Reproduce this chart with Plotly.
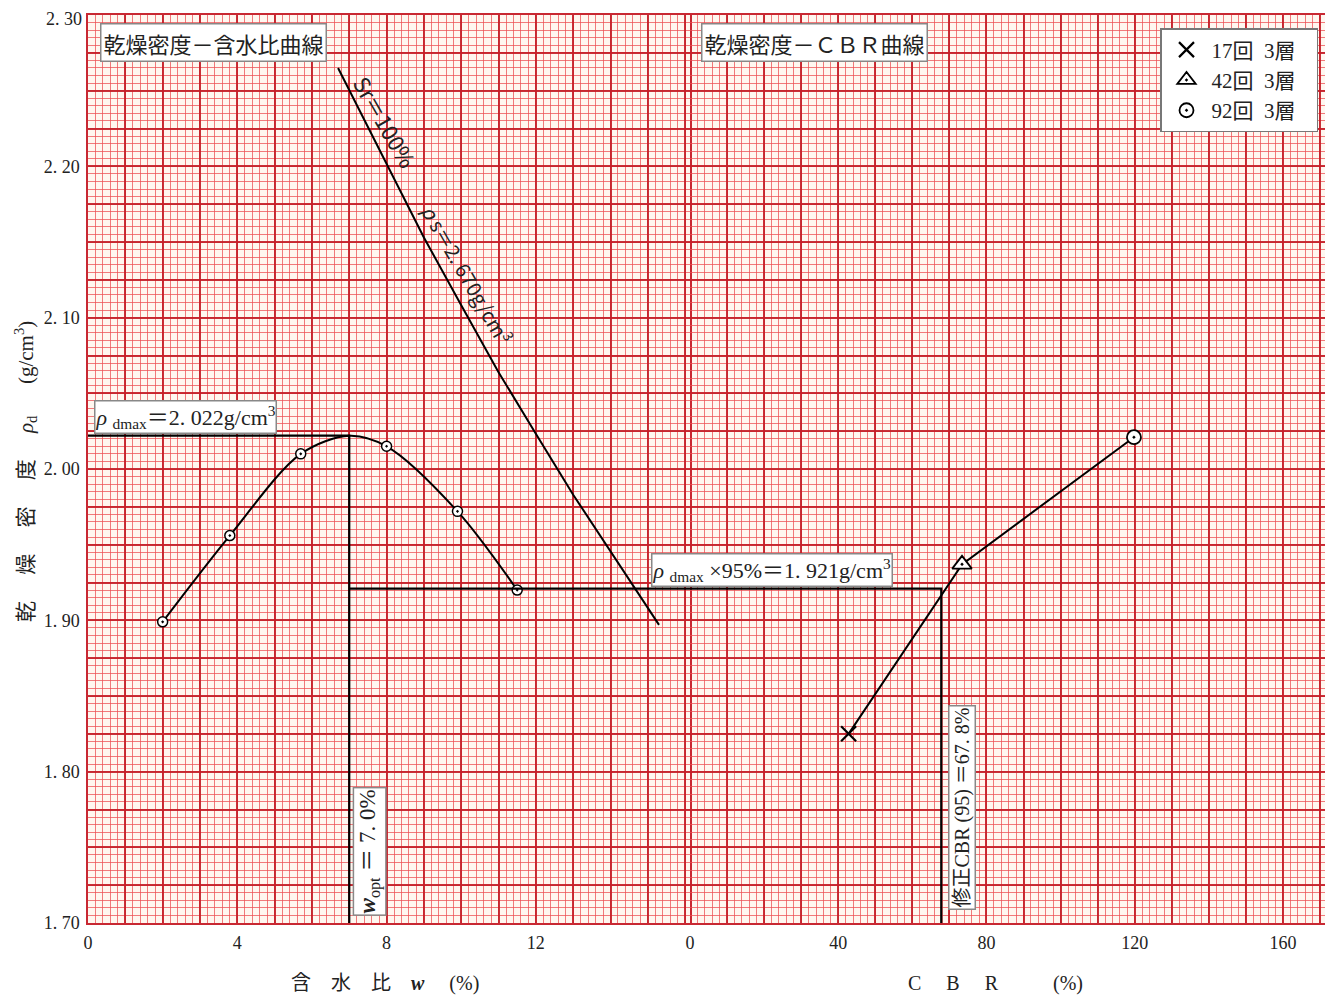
import plotly.graph_objects as go

# ---------------- data ----------------
# compaction test points (water content %, dry density g/cm3)
W_COMP = [2.0, 3.8, 5.7, 8.0, 9.9, 11.5]
RHO_COMP = [1.899, 1.956, 2.010, 2.015, 1.972, 1.920]
W_CURVE = [2.0, 3.8, 5.7, 7.0, 8.0, 9.9, 11.5]
RHO_CURVE = [1.899, 1.956, 2.010, 2.022, 2.015, 1.972, 1.920]
# zero-air-voids line (Sr = 100%, rho_s = 2.670)
W_ZAV = [6.7, 9.0, 11.0, 13.0, 15.3]
RHO_ZAV = [2.265, 2.153, 2.064, 1.983, 1.897]
# CBR test points
CBR_VAL = [42.8, 73.4, 119.8]
RHO_CBR = [1.825, 1.937, 2.021]
BLOW_LABELS = ["17回  3層", "42回  3層", "92回  3層"]
SYMBOLS = ["x-thin", "triangle-up-dot", "circle-dot"]
SIZES = [15, 17, 14]
# key results
W_OPT = 7.0
RHO_DMAX = 2.022
RHO_95 = 1.921
CBR_95 = 67.8
# axes
Y_RANGE = [1.70, 2.30]
W_RANGE = [0, 16.13]
CBR_RANGE = [0, 172.7]
Y_TICKS = [1.70, 1.80, 1.90, 2.00, 2.10, 2.20]
Y_TOP_LABEL = "2. 30"
W_TICKS = [0, 4, 8, 12]
CBR_TICKS = [0, 40, 80, 120, 160]

SERIF = "Liberation Serif, Noto Sans CJK JP, serif"
SANS = "Noto Sans CJK JP, sans-serif"
MINOR_C = "rgba(236,80,84,0.75)"
MAJOR_C = "rgba(196,30,40,0.92)"

fig = go.Figure()

# compaction curve
fig.add_trace(go.Scatter(x=W_CURVE, y=RHO_CURVE, mode="lines",
                         line=dict(color="black", width=2, shape="spline", smoothing=0.9),
                         showlegend=False, hoverinfo="skip"))
fig.add_trace(go.Scatter(x=W_COMP, y=RHO_COMP, mode="markers",
                         marker=dict(symbol="circle-dot", size=10, color="white",
                                     line=dict(color="black", width=1.5)),
                         showlegend=False))
# zero air voids line
fig.add_trace(go.Scatter(x=W_ZAV, y=RHO_ZAV, mode="lines",
                         line=dict(color="black", width=2, shape="spline", smoothing=0.3),
                         showlegend=False, hoverinfo="skip"))
# rho_dmax lines
fig.add_trace(go.Scatter(x=[W_RANGE[0], W_OPT, W_OPT], y=[RHO_DMAX, RHO_DMAX, Y_RANGE[0]],
                         mode="lines", line=dict(color="black", width=2.2),
                         showlegend=False, hoverinfo="skip"))
# 95% line (left part on water axis)
fig.add_trace(go.Scatter(x=[W_OPT, W_RANGE[1]], y=[RHO_95, RHO_95], mode="lines",
                         line=dict(color="black", width=2.2), showlegend=False, hoverinfo="skip"))
# 95% line (right part on CBR axis) and vertical
fig.add_trace(go.Scatter(x=[CBR_RANGE[0], CBR_95, CBR_95], y=[RHO_95, RHO_95, Y_RANGE[0]],
                         xaxis="x2", mode="lines", line=dict(color="black", width=2.2),
                         showlegend=False, hoverinfo="skip"))
# CBR curve
fig.add_trace(go.Scatter(x=CBR_VAL, y=RHO_CBR, xaxis="x2", mode="lines",
                         line=dict(color="black", width=2), showlegend=False, hoverinfo="skip"))
for c, r, lab, sym, sz in zip(CBR_VAL, RHO_CBR, BLOW_LABELS, SYMBOLS, SIZES):
    fig.add_trace(go.Scatter(x=[c], y=[r], xaxis="x2", mode="markers", name=lab + "\u00a0\u00a0\u00a0",
                             marker=dict(symbol=sym, size=sz,
                                         color="black" if sym == "x-thin" else "white",
                                         line=dict(color="black", width=2.2 if sym == "x-thin" else 1.8))))

def grid_axis(rng, dom, minor, tickvals, ticktext, anchor="y"):
    return dict(range=rng, domain=dom, anchor=anchor,
                tickmode="array", tickvals=tickvals, ticktext=ticktext,
                showgrid=True, gridcolor=MAJOR_C, gridwidth=1.6,
                minor=dict(tickmode="linear", tick0=rng[0], dtick=minor, showgrid=True,
                           gridcolor=MINOR_C, gridwidth=1, ticks=""),
                ticks="", zeroline=False, showline=True, linecolor="rgb(200,40,50)", linewidth=1.5,
                mirror=True, tickfont=dict(family=SERIF, size=18, color="#222"),
                ticklabeloverflow="allow", automargin=False, fixedrange=True)

D = 602 / 1242
w_major = [i for i in range(0, 17)]
w_text = [str(v) if v in W_TICKS else "" for v in w_major]
c_major = [i * 10 for i in range(0, 18)]
c_text = [str(v) if v in CBR_TICKS else "" for v in c_major]
y_major = [round(1.70 + 0.025 * i, 3) for i in range(0, 25)]
y_text = [f"{v:.2f}".replace(".", ". ") if any(abs(v - t) < 1e-6 for t in Y_TICKS) else "" for v in y_major]

fig.update_layout(
    width=1333, height=996,
    margin=dict(l=80, r=11, t=7, b=81, autoexpand=False),
    paper_bgcolor="white", plot_bgcolor="#fff7f0",
    xaxis=grid_axis(W_RANGE, [0, D], 0.2, w_major, w_text),
    xaxis2=grid_axis(CBR_RANGE, [D, 1], 2, c_major, c_text),
    yaxis=grid_axis(Y_RANGE, [0, 1], 0.005, y_major, y_text, anchor="x"),
    legend=dict(x=(1160 - 88) / 1242, y=(923 - 28) / 908, xanchor="left", yanchor="top",
                bgcolor="white", bordercolor="#777", borderwidth=1.5,
                font=dict(family=SERIF, size=21, color="#222"), itemwidth=40,
                tracegroupgap=0),
    showlegend=True,
)
fig.update_xaxes(ticklabelstandoff=3)
fig.update_yaxes(ticklabelstandoff=3)

box = dict(bgcolor="white", bordercolor="#888", borderwidth=1.5, showarrow=False)
ann = [
    dict(x=0, y=Y_RANGE[1], xref="paper", yref="y", xanchor="right", yanchor="middle",
         xshift=-4, yshift=-4, showarrow=False, text=Y_TOP_LABEL,
         font=dict(family=SERIF, size=18, color="#222")),
    dict(x=3.35, y=2.282, xref="x", yref="y", text="乾燥密度－含水比曲線",
         font=dict(family=SANS, size=22, color="#222"), borderpad=2, **box),
    dict(x=33.7, y=2.282, xref="x2", yref="y", text="乾燥密度－ＣＢＲ曲線",
         font=dict(family=SANS, size=22, color="#222"), borderpad=2, **box),
    dict(x=2.62, y=2.0343, xref="x", yref="y",
         text="<i>ρ</i> <sub>dmax</sub>＝2. 022g/cm<sup>3</sup>",
         font=dict(family=SERIF, size=22, color="#222"), borderpad=0, **box),
    dict(x=22.1, y=1.9335, xref="x2", yref="y",
         text="<i>ρ</i> <sub>dmax</sub> ×95%＝1. 921g/cm<sup>3</sup>",
         font=dict(family=SERIF, size=22, color="#222"), borderpad=0, **box),
    dict(x=7.55, y=1.7475, xref="x", yref="y", textangle=-90,
         text="<i><b>w</b></i><sub>opt</sub> ＝ 7. 0%",
         font=dict(family=SERIF, size=23, color="#222"), borderpad=1, **box),
    dict(x=73.4, y=1.776, xref="x2", yref="y", textangle=-90,
         text="修正CBR (95) ＝67. 8%",
         font=dict(family=SERIF, size=20, color="#222"), borderpad=1, **box),
    dict(x=7.98, y=2.2292, xref="x", yref="y", textangle=60, showarrow=False,
         text="Sr＝100%", font=dict(family=SANS, size=22, color="#222")),
    dict(x=10.17, y=2.1287, xref="x", yref="y", textangle=60, showarrow=False,
         text="<i>ρ</i> s＝2. 670g/cm<sup>3</sup>", font=dict(family=SANS, size=20, color="#222")),
    # axis titles
    dict(x=0, y=(923 - 472) / 908, xref="paper", yref="paper", xshift=-63, textangle=-90,
         showarrow=False, xanchor="center", yanchor="middle",
         text="乾　 燥　 密　 度　 <i>ρ</i><sub>d</sub>　  (g/cm<sup>3</sup>)",
         font=dict(family=SERIF, size=21, color="#222")),
    dict(x=(385 - 88) / 1242, y=0, xref="paper", yref="paper", yshift=-60, showarrow=False,
         xanchor="center", yanchor="middle",
         text="含　水　比　<i><b>w</b></i>　 (%)", font=dict(family=SERIF, size=20, color="#222")),
    dict(x=(995 - 88) / 1242, y=0, xref="paper", yref="paper", yshift=-60, showarrow=False,
         xanchor="center", yanchor="middle",
         text="C　 B　 R　　   (%)", font=dict(family=SERIF, size=20, color="#222")),
]
fig.update_layout(annotations=ann)

fig.write_html("out.html")
